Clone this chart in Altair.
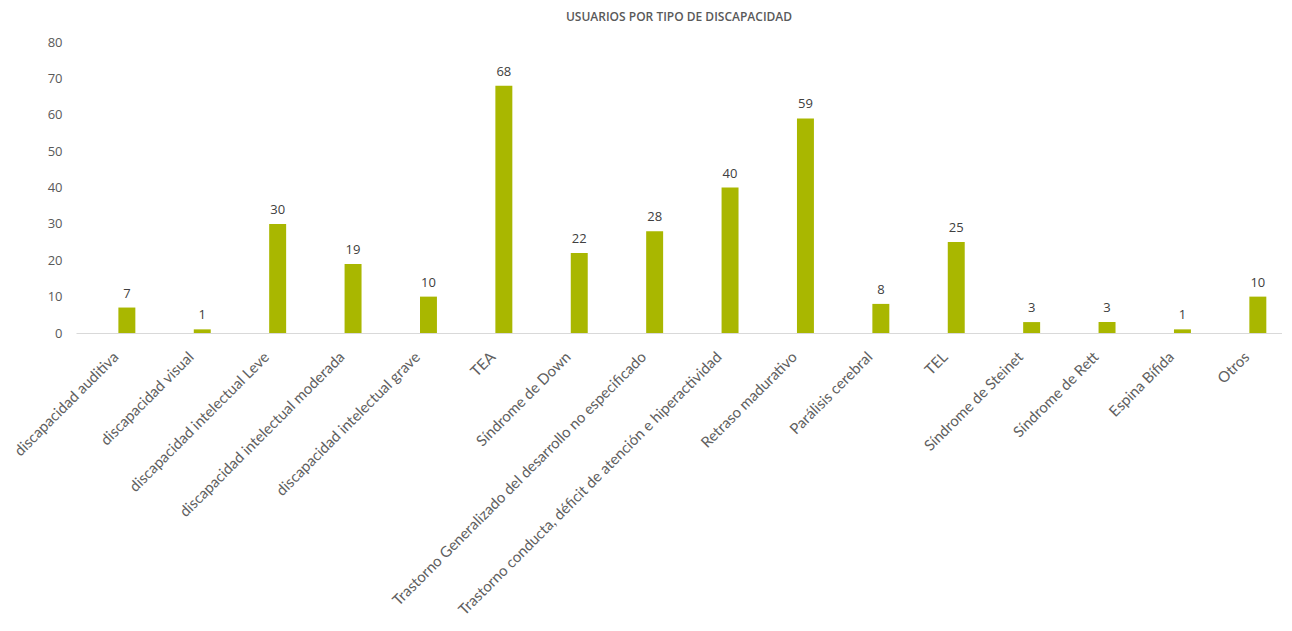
import altair as alt
import pandas as pd

categories = [
    "discapacidad auditiva",
    "discapacidad visual",
    "discapacidad intelectual Leve",
    "discapacidad intelectual moderada",
    "discapacidad intelectual grave",
    "TEA",
    "Síndrome de Down",
    "Trastorno Generalizado del desarrollo no especificado",
    "Trastorno conducta, déficit de atención e hiperactividad",
    "Retraso madurativo",
    "Parálisis cerebral",
    "TEL",
    "Síndrome de Steinet",
    "Síndrome de Rett",
    "Espina Bífida",
    "Otros",
]
values = [7, 1, 30, 19, 10, 68, 22, 28, 40, 59, 8, 25, 3, 3, 1, 10]
y_ticks = [0, 10, 20, 30, 40, 50, 60, 70, 80]

df = pd.DataFrame({"cat": categories, "val": values})

FONT = "Open Sans"
XFONT = "Lato"
GREY = "#595959"

x_enc = alt.X(
    "cat:N",
    sort=categories,
    title=None,
    scale=alt.Scale(paddingInner=0.775, paddingOuter=0.385, align=0.73),
    axis=alt.Axis(
        labelAngle=-45,
        labelAlign="right",
        labelBaseline="middle",
        labelPadding=21,
        labelOffset=-11,
        labelFont=XFONT,
        labelFontSize=15,
        labelColor="#606060",
        labelLimit=0,
        labelOverlap=False,
        ticks=False,
        domainColor="#D9D9D9",
        domainWidth=1.2,
        grid=False,
    ),
)
y_enc = alt.Y(
    "val:Q",
    title=None,
    scale=alt.Scale(domain=[0, 80], nice=False, zero=True),
    axis=alt.Axis(
        values=y_ticks,
        labelFont=FONT,
        labelFontSize=13,
        labelColor=GREY,
        labelPadding=14,
        labelOverlap=False,
        labelSeparation=0,
        ticks=False,
        domain=False,
        grid=False,
    ),
)

base = alt.Chart(df).encode(x=x_enc, y=y_enc)
bars = base.mark_bar(color="#A9B700")
text = base.mark_text(
    baseline="bottom", dy=-7, font=FONT, fontSize=13, color="#404040"
).encode(text="val:Q")

chart = (
    alt.layer(bars, text)
    .properties(
        width=1206,
        height=291,
        autosize=alt.AutoSizeParams(type="none"),
        padding={"left": 68, "top": 34, "right": 0, "bottom": 290},
        title=alt.TitleParams(
            "USUARIOS POR TIPO DE DISCAPACIDAD",
            font=FONT,
            fontSize=12,
            fontWeight=600,
            color=GREY,
            anchor="middle",
            offset=12,
        ),
    )
    .configure_view(stroke=None)
    .configure_axisY(labelOverlap=False, values=y_ticks)
)

chart.save("out.html", embed_options={"renderer": "svg", "actions": False})
